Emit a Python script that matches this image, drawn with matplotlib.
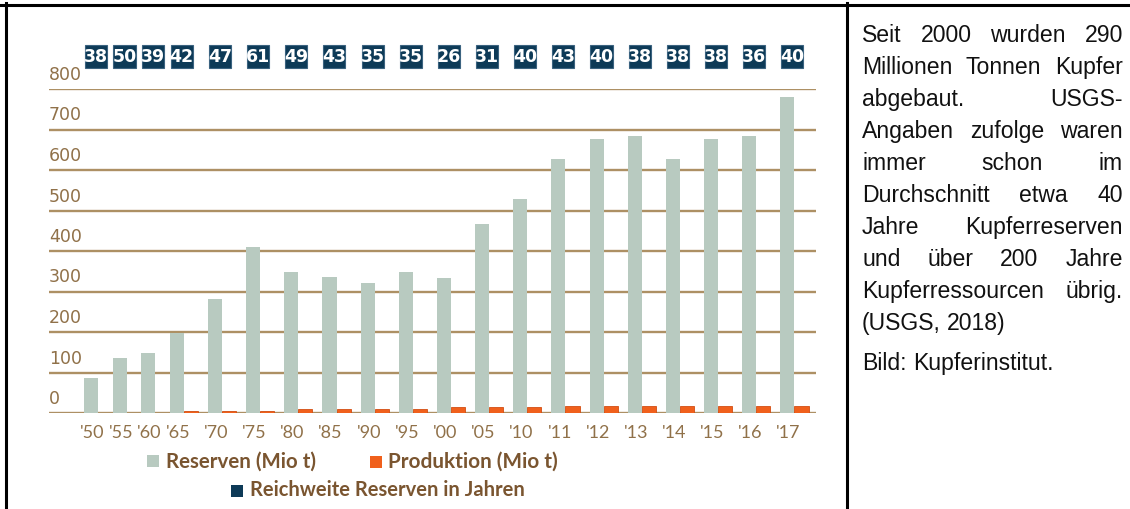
import numpy as np
import matplotlib
matplotlib.use("Agg")
import matplotlib.pyplot as plt
from matplotlib.patches import Rectangle
from matplotlib.lines import Line2D
from matplotlib.transforms import blended_transform_factory, ScaledTranslation

# Daten
jahre = ["'50", "'55", "'60", "'65", "'70", "'75", "'80", "'85", "'90", "'95",
         "'00", "'05", "'10", "'11", "'12", "'13", "'14", "'15", "'16", "'17"]
reserven = [87, 137, 149, 197, 281, 411, 347, 335, 320, 347,
            334, 466, 528, 628, 677, 684, 628, 677, 684, 781]
produktion = [0, 0, 0, 6, 6, 6, 10, 10, 10, 9,
              14, 15, 15, 17, 17, 18, 17, 17, 18, 18]
reichweite = [38, 50, 39, 42, 47, 61, 49, 43, 35, 35,
              26, 31, 40, 43, 40, 38, 38, 38, 36, 40]
y_ticks = [0, 100, 200, 300, 400, 500, 600, 700, 800]

text_zeilen = [
    "Seit 2000 wurden 290",
    "Millionen Tonnen Kupfer",
    "abgebaut. USGS-",
    "Angaben zufolge waren",
    "immer schon im",
    "Durchschnitt etwa 40",
    "Jahre Kupferreserven",
    "und über 200 Jahre",
    "Kupferressourcen übrig.",
    "(USGS, 2018)",
]
bild_text = "Bild: Kupferinstitut."

# Farben
C_RES = "#b8cac0"
C_PROD = "#f0601c"
C_NAVY = "#0d3a57"
C_GRID = "#ad9064"
C_LABEL = "#907149"
C_LEG = "#7a5530"

W, H = 1130, 509
fig = plt.figure(figsize=(W / 100, H / 100), dpi=100)
fig.patch.set_facecolor("white")
renderer = fig.canvas.get_renderer()

# Kategorienpositionen: erste vier enger
pos = np.concatenate([np.arange(4) * 0.75, 2.25 + np.arange(1, 17)])

ax = fig.add_axes([49 / W, 96 / H, (816 - 49) / W, 324 / H])
ax.set_xlim(-1.10, 19.0)
ax.set_ylim(0, 800)
ax.axis("off")

for v in y_ticks:
    ax.axhline(v, color=C_GRID, lw=1.7, zorder=1)

bw = 0.37
ax.bar(pos, reserven, width=bw, color=C_RES, zorder=2)
prod_mask = np.array(produktion) > 0
ax.bar(pos[prod_mask] + bw, np.array(produktion)[prod_mask], width=bw,
       color=C_PROD, edgecolor="#d24e12", linewidth=0.6, zorder=2)

# y-Beschriftung oberhalb der Linien
ytr = blended_transform_factory(ax.transAxes, ax.transData) + \
    ScaledTranslation(0, 0.14, fig.dpi_scale_trans)
for v in y_ticks:
    ax.text(0, v, str(v), transform=ytr, ha="left", va="center",
            fontsize=12.5, color=C_LABEL, family="DejaVu Sans")

# x-Beschriftung
xtr = ax.transData + ScaledTranslation(0, -0.20, fig.dpi_scale_trans)
for p, lab in zip(pos, jahre):
    ax.text(p + 0.03, 0, lab, transform=xtr, ha="center", va="center",
            fontsize=13, color=C_LABEL, family="Lato")

# Reichweite-Kästchen
btr = blended_transform_factory(ax.transData, fig.transFigure)
box_w = 0.58
box_h = 23 / H
box_y = 1 - 68 / H
for p, r in zip(pos, reichweite):
    cx = p + 0.13
    ax.add_patch(Rectangle((cx - box_w / 2, box_y), box_w, box_h, transform=btr,
                           facecolor=C_NAVY, edgecolor="#3b6380", lw=0.8,
                           clip_on=False, zorder=3))
    ax.text(cx, box_y + box_h / 2, str(r), transform=btr, ha="center",
            va="center", color="white", fontsize=12.5, fontweight="bold",
            family=["Liberation Sans Narrow", "DejaVu Sans"], zorder=4,
            clip_on=False)


def fit_text(x0, x1, y, s, **kw):
    t = fig.text(x0 / W, 1 - y / H, s, fontsize=10, ha="left", **kw)
    w = t.get_window_extent(renderer).width
    t.set_fontsize(10 * (x1 - x0) / w)
    return t


def square(x, y, size, color):
    fig.add_artist(Rectangle((x / W, 1 - (y + size) / H), size / W, size / H,
                             transform=fig.transFigure, facecolor=color,
                             edgecolor="none"))


# Legende
square(147, 455, 12, C_RES)
fit_text(166, 317, 462, "Reserven (Mio t)", va="center", color=C_LEG,
         family="Lato", fontweight="bold")
square(370, 456, 12, C_PROD)
fit_text(388, 558, 462, "Produktion (Mio t)", va="center", color=C_LEG,
         family="Lato", fontweight="bold")
square(231, 485, 12, C_NAVY)
fit_text(250, 525, 490, "Reichweite Reserven in Jahren", va="center",
         color=C_LEG, family="Lato", fontweight="bold")

# Blocksatz-Text rechts
tx0, tx1 = 862, 1123
fs = 16.6


def zeile(s, y_base, blocksatz=True):
    words = s.split(" ")
    ts = [fig.text(0, 1 - y_base / H, w, fontsize=fs, family="Liberation Sans",
                   color="#111111", va="baseline", ha="left") for w in words]
    widths = [t.get_window_extent(renderer).width for t in ts]
    if blocksatz and len(words) > 1:
        gap = (tx1 - tx0 - sum(widths)) / (len(words) - 1)
    else:
        gap = ts[0].get_fontsize() * 0.278 * 100 / 72
    x = tx0
    for t, w in zip(ts, widths):
        t.set_x(x / W)
        x += w + gap


for i, s in enumerate(text_zeilen):
    zeile(s, 42 + 32 * i, blocksatz=(i < len(text_zeilen) - 1))
zeile(bild_text, 370, blocksatz=False)

# Tabellenrahmen
lw = 2.2
fig.add_artist(Line2D([0, 1], [1 - 4.5 / H, 1 - 4.5 / H], transform=fig.transFigure,
                      color="black", lw=lw))
fig.add_artist(Line2D([5.5 / W, 5.5 / W], [0, 1 - 3 / H], transform=fig.transFigure,
                      color="black", lw=lw))
fig.add_artist(Line2D([846.5 / W, 846.5 / W], [0, 1 - 3 / H], transform=fig.transFigure,
                      color="black", lw=lw))

fig.savefig("out.png", dpi=100, facecolor="white")
